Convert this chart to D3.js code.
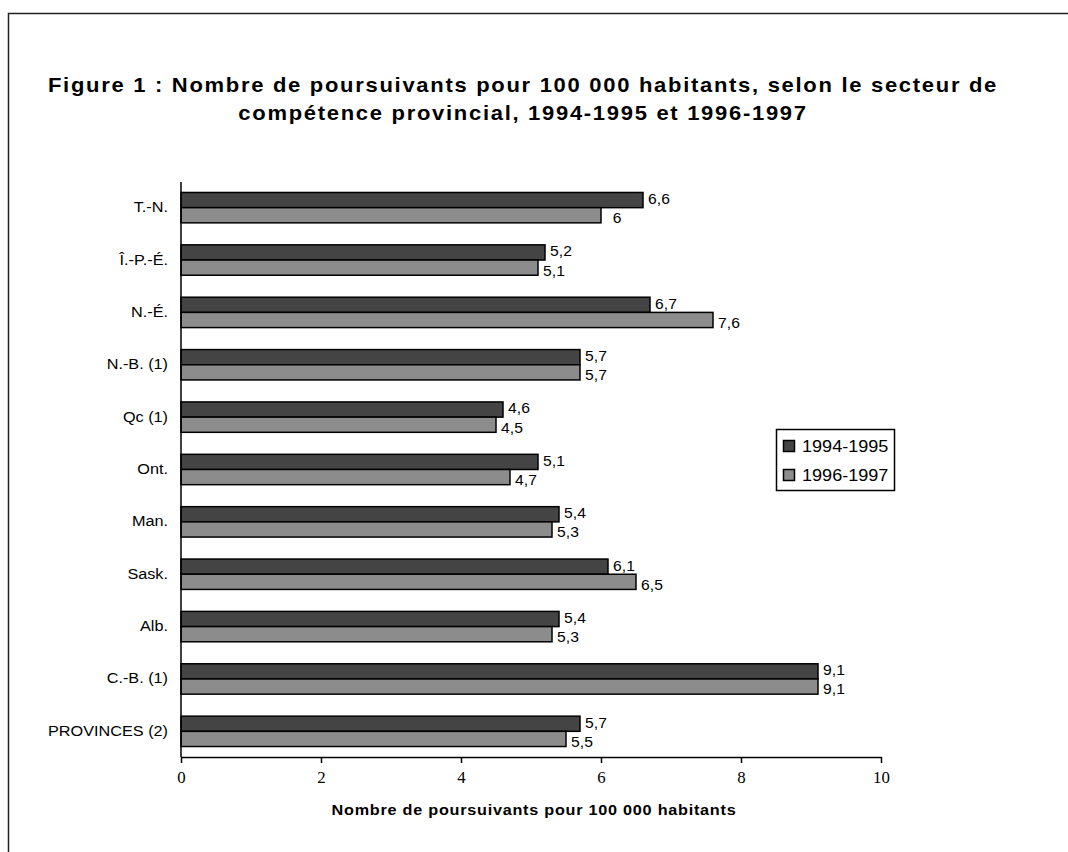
<!DOCTYPE html>
<html><head><meta charset="utf-8">
<script src="https://cdn.jsdelivr.net/npm/d3@7"></script>
<style>
body{margin:0;background:#fff;}
svg{display:block;}
</style></head>
<body>
<svg id="chart" width="1068" height="852"></svg>
<script>
const categories = ["T.-N.","Î.-P.-É.","N.-É.","N.-B. (1)","Qc (1)","Ont.","Man.","Sask.","Alb.","C.-B. (1)","PROVINCES (2)"];
const values9495 = [6.6,5.2,6.7,5.7,4.6,5.1,5.4,6.1,5.4,9.1,5.7];
const values9697 = [6.0,5.1,7.6,5.7,4.5,4.7,5.3,6.5,5.3,9.1,5.5];
const seriesNames = ["1994-1995","1996-1997"];
const seriesColors = ["#444444","#8c8c8c"];
const xTicks = [0,2,4,6,8,10];
const titleLines = ["Figure 1 : Nombre de poursuivants pour 100 000 habitants, selon le secteur de","compétence provincial, 1994-1995 et 1996-1997"];
const xAxisTitle = "Nombre de poursuivants pour 100 000 habitants";

const svg = d3.select("#chart");
const SANS = "Arial, 'Liberation Sans', sans-serif";
const SERIF = "'Times New Roman', 'Liberation Serif', serif";

function stretch(sel, sx){
  sel.each(function(){
    const t = d3.select(this);
    const x = +t.attr("x")||0, y = +t.attr("y")||0;
    t.attr("transform", `translate(${x},${y}) scale(${sx},1)`).attr("x",0).attr("y",0);
  });
}

// frame
svg.append("rect").attr("x",8.5).attr("y",13.5).attr("width",1200).attr("height",1000)
  .attr("fill","none").attr("stroke","#222").attr("stroke-width",1.5);

// title
const tt = svg.append("g").selectAll("text").data(titleLines).join("text")
  .attr("x",523).attr("y",(d,i)=>92+i*28)
  .attr("text-anchor","middle").attr("font-family",SANS).attr("font-weight","bold")
  .attr("font-size",20).attr("letter-spacing",1.55).attr("fill","#000").text(d=>d);
stretch(tt,1.1);

const x0 = 181, x1 = 881, yTop = 182, yBot = 757;
const x = d3.scaleLinear().domain([0,10]).range([x0,x1]);
const y = d3.scaleBand().domain(categories).range([yTop,yBot]).paddingInner(0.42).paddingOuter(0.2);
const ySub = d3.scaleBand().domain(seriesNames).range([0,y.bandwidth()]);

const data = categories.map((c,i)=>({cat:c, vals:[values9495[i],values9697[i]]}));

// bars
const groups = svg.append("g").selectAll("g").data(data).join("g")
  .attr("transform",d=>`translate(0,${y(d.cat)})`);
groups.selectAll("rect").data(d=>d.vals.map((v,k)=>({v,k}))).join("rect")
  .attr("x",x(0)).attr("y",d=>ySub(seriesNames[d.k]))
  .attr("width",d=>x(d.v)-x(0)).attr("height",ySub.bandwidth())
  .attr("fill",d=>seriesColors[d.k]).attr("stroke","#000").attr("stroke-width",1.5);

// value labels
const fmt = v => String(v).replace(".",",");
const vl = groups.selectAll("text").data(d=>d.vals.map((v,k)=>({v,k}))).join("text")
  .attr("x",d=>x(d.v)+16)
  .attr("y",d=>ySub(seriesNames[d.k])+ySub.bandwidth()/2 + (d.k===0?-1:3))
  .attr("dy","0.35em").attr("text-anchor","middle")
  .attr("font-family",SANS).attr("font-size",14).attr("fill","#000")
  .text(d=>fmt(d.v));
stretch(vl,1.12);

// y axis
const yAxis = svg.append("g").attr("transform",`translate(${x0},0)`)
  .call(d3.axisLeft(y).tickSize(0).tickPadding(13));
yAxis.select(".domain").attr("d",`M0,${yTop}V${yBot}`).attr("stroke","#000").attr("stroke-width",1.5);
yAxis.selectAll("text").attr("font-family",SANS).attr("font-size",14).attr("fill","#000");
stretch(yAxis.selectAll(".tick text"),1.16);

// x axis
const xAxis = svg.append("g").attr("transform",`translate(0,${yBot})`)
  .call(d3.axisBottom(x).tickValues(xTicks).tickSize(6).tickSizeOuter(0).tickPadding(9).tickFormat(d3.format("d")));
xAxis.select(".domain").attr("stroke","#000").attr("stroke-width",1.5);
xAxis.selectAll(".tick line").attr("stroke","#000").attr("stroke-width",1.5);
xAxis.selectAll("text").attr("font-family",SERIF).attr("font-size",16).attr("fill","#000");
stretch(xAxis.selectAll(".tick text"),1.05);

// x axis title
const at = svg.append("text").attr("x",534).attr("y",815).attr("text-anchor","middle")
  .attr("font-family",SANS).attr("font-weight","bold").attr("font-size",15)
  .attr("letter-spacing",0.7).attr("fill","#000")
  .text(xAxisTitle);
stretch(at,1.08);

// legend
const lg = svg.append("g").attr("transform","translate(776,429)");
lg.append("rect").attr("x",0.5).attr("y",0.5).attr("width",118).attr("height",61)
  .attr("fill","#fff").attr("stroke","#000").attr("stroke-width",1.5);
const li = lg.selectAll("g.item").data(seriesNames).join("g").attr("class","item")
  .attr("transform",(d,i)=>`translate(0,${i*29})`);
li.append("rect").attr("x",7.5).attr("y",11.5).attr("width",11).attr("height",11)
  .attr("fill",(d,i)=>seriesColors[i]).attr("stroke","#000").attr("stroke-width",1.5);
const lt = li.append("text").attr("x",26).attr("y",17).attr("dy","0.35em")
  .attr("font-family",SANS).attr("font-size",16).attr("fill","#000").text(d=>d);
stretch(lt,1.13);
</script>
</body></html>
